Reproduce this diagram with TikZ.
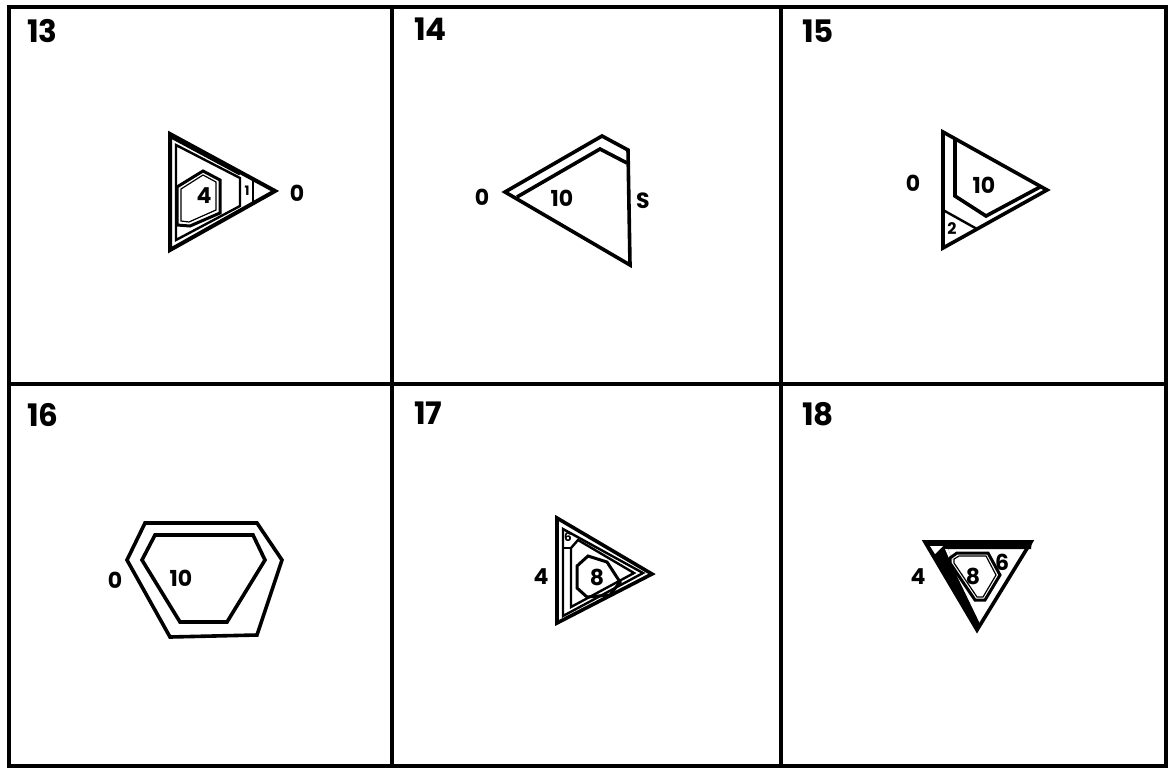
\documentclass[tikz,border=0pt]{standalone}
\usepackage{fontspec}
\newfontfamily\lab{Poppins}
\tikzset{
  frame/.style={line width=4pt, line cap=round},
  shp/.style={line width=3.6pt, line join=miter},
  shpthin/.style={line width=2.4pt, line join=miter},
  hair/.style={line width=1.2pt},
  num/.style={font=\lab\bfseries\fontsize{31}{31}\selectfont, anchor=west, inner sep=0pt},
  lbl/.style={font=\lab\bfseries\fontsize{22}{22}\selectfont, inner sep=0pt},
  slbl/.style={font=\lab\bfseries\fontsize{16}{16}\selectfont, inner sep=0pt},
}
\begin{document}
\begin{tikzpicture}[x=1pt,y=-1pt]
\useasboundingbox (0,0) rectangle (1169,769);
\fill[white] (0,0) rectangle (1169,769);
% grid
\draw[frame] (9,7) rectangle (1166,766);
\draw[frame] (392,7) -- (392,766);
\draw[frame] (781,7) -- (781,766);
\draw[frame] (9,384) -- (1166,384);
% panel numbers
\node[num] (n13) at (27,31) {13};
\node[num] (n14) at (414,29) {14};
\node[num] (n15) at (802,31) {15};
\node[num] (n16) at (27,415) {16};
\node[num] (n17) at (414,413) {17};
\node[num] (n18) at (802,414) {18};

% ---- panel 13
\draw[shp, line width=4pt] (170,134) -- (275,191) -- (170,250) -- cycle;
\draw[line width=3pt] (171,137) -- (240,174);
\draw[shpthin] (176,145) -- (240,178) -- (240,206) -- (176,240) -- cycle;
\draw[line width=2pt] (253,180) -- (253,203);
\draw[shp, line width=3pt] (203,171) -- (220,180) -- (220,213) -- (190,226) -- (177,225) -- (177,187) -- cycle;
\draw[hair] (203,175) -- (216,182) -- (216,210) -- (189,222) -- (181,221) -- (181,189) -- cycle;
\node[lbl] (t13a) at (204,196) {4};
\node[slbl, font=\lab\bfseries\fontsize{13}{13}\selectfont] (t13b) at (247,191) {1};
\node[lbl] (t13c) at (297,193) {0};

% ---- panel 14
\draw[shp] (505,192) -- (602,136) -- (628,150) -- (630,265) -- cycle;
\draw[shp] (517,197) -- (600,149) -- (627,163);
\node[lbl] (t14a) at (482,197) {0};
\node[lbl] (t14b) at (562,198) {10};
\node[lbl] (t14c) at (643,201) {S};

% ---- panel 15
\draw[shp] (943,132) -- (1047,190) -- (943,248) -- cycle;
\draw[shp] (955,139) -- (955,196) -- (986,216) -- (1040,187);
\draw[shpthin] (943,210) -- (977,229);
\node[lbl] (t15a) at (913,183) {0};
\node[lbl] (t15b) at (984,185) {10};
\node[slbl] (t15c) at (952,229) {2};

% ---- panel 16
\draw[shp] (145,523) -- (257,523) -- (282,560) -- (257,635) -- (170,637) -- (127,560) -- cycle;
\draw[shp] (155,535) -- (253,535) -- (265,560) -- (227,622) -- (180,622) -- (142,560) -- cycle;
\node[lbl] (t16a) at (115,580) {0};
\node[lbl] (t16b) at (181,578) {10};

% ---- panel 17
\draw[shp] (557,518) -- (652,574) -- (557,623) -- cycle;
\draw[shpthin] (563,529) -- (643,573) -- (563,616) -- cycle;
\draw[shpthin] (571,548) -- (578,540) -- (634,573) -- (571,607) -- cycle;
\draw[line width=2pt] (563,548) -- (571,548);
\draw[shp, line width=3pt] (577,566) -- (588,556) -- (607,562) -- (620,582) -- (610,595) -- (587,597) -- (577,588) -- cycle;
\node[slbl, font=\lab\bfseries\fontsize{12}{12}\selectfont] (t17a) at (568,537) {6};
\node[lbl] (t17b) at (597,577) {8};
\node[lbl] (t17c) at (541,577) {4};

% ---- panel 18
\fill (925,541) -- (1032,541) -- (1031,549) -- (948,549) -- (979,624) -- (977,631) -- cycle;
\fill[white] (945,549) -- (948,549) -- (980,624) -- (978,626) -- cycle;
\fill (925,541) -- (940,541) -- (980,624) -- (977,631) -- cycle;
\draw[shp] (925,542) -- (1031,542) -- (977,630) -- cycle;
\fill[white] (930,546) -- (943,546) -- (935,554) -- cycle;
\draw[shp, line width=3pt] (950,558) -- (957,553) -- (988,553) -- (1000,575) -- (985,600) -- (975,600) -- (950,563) -- cycle;
\draw[hair] (954,559) -- (959,556) -- (986,556) -- (996,575) -- (983,597) -- (977,597) -- (954,563) -- cycle;
\node[lbl] (t18a) at (973,576) {8};
\node[lbl] (t18b) at (1002,562) {6};
\node[lbl] (t18c) at (918,577) {4};
\end{tikzpicture}
\end{document}
